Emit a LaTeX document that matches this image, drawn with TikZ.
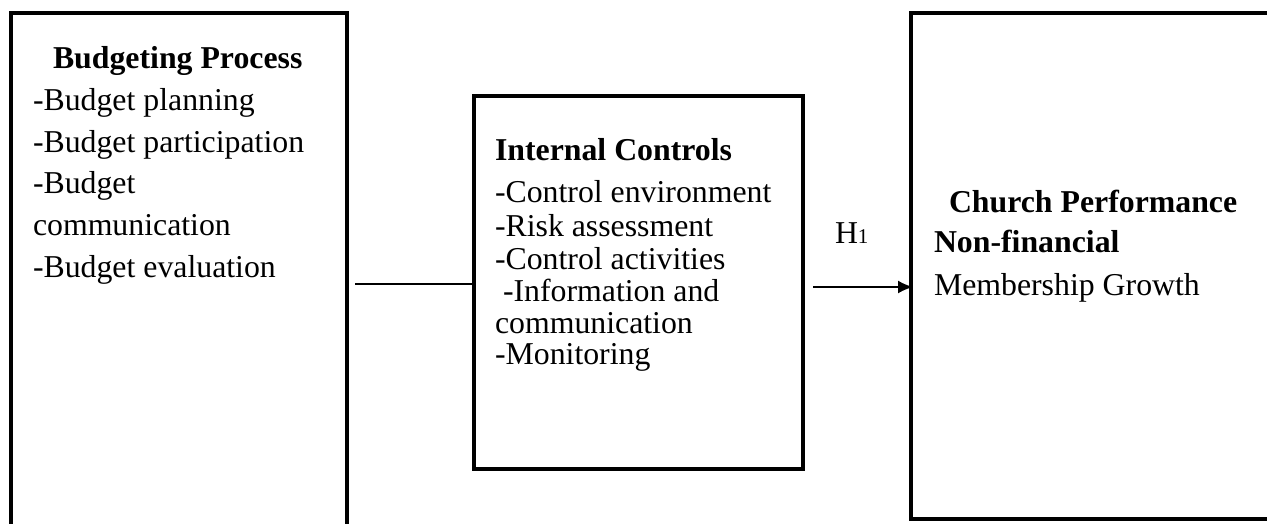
\documentclass[tikz,border=0pt]{standalone}
\usepackage{fontspec}
\setmainfont{Liberation Serif}
\usetikzlibrary{arrows.meta}
\begin{document}
\begin{tikzpicture}[x=1pt,y=-1pt,
  frame/.style={line width=4.5pt,line join=miter},
  txt/.style={anchor=base west,inner sep=0pt,outer sep=0pt,
    font=\fontsize{31.8}{36}\selectfont},
  head/.style={txt,font=\fontsize{31.8}{36}\selectfont\bfseries},
  link/.style={line width=2pt},
  arr/.style={line width=2pt,-{Latex[length=15pt,width=13pt]}}]
\useasboundingbox (0,0) rectangle (1267,523);
\clip (0,0) rectangle (1267,523);

% Budgeting process frame (open at the bottom of the page)
\draw[frame] (11,540) -- (11,13) -- (347,13) -- (347,540);
% Internal controls frame
\node[frame,draw,rectangle,minimum width=329pt,minimum height=373pt,
  inner sep=0pt] (ic) at (638.5,282.5) {};
% Church performance frame (runs past the right edge)
\draw[frame] (1290,519) -- (911,519) -- (911,13) -- (1290,13);

% Budgeting process text
\node[head] (bp0) at (53,68) {Budgeting Process};
\node[txt] (bp1) at (33,110) {-Budget planning};
\node[txt] (bp2) at (33,152) {-Budget participation};
\node[txt] (bp3) at (33,193) {-Budget};
\node[txt] (bp4) at (33,235) {communication};
\node[txt] (bp5) at (33,277) {-Budget evaluation};

% Internal controls text
\node[head] (ic0) at (495,160) {Internal Controls};
\node[txt] (ic1) at (495,202) {-Control environment};
\node[txt] (ic2) at (495,236) {-Risk assessment};
\node[txt] (ic3) at (495,269) {-Control activities};
\node[txt] (ic4) at (503,301) {-Information and};
\node[txt] (ic5) at (495,333) {communication};
\node[txt] (ic6) at (495,364) {-Monitoring};

% Church performance text
\node[head] (cp0) at (949,212) {Church Performance};
\node[head] (cp1) at (934,252) {Non-financial};
\node[txt] (cp2) at (934,295) {Membership Growth};

% Hypothesis label
\node[txt] (h1) at (835,243) {H{\fontsize{21}{24}\selectfont 1}};

% Connectors
\coordinate (l0) at (355,284);
\coordinate (a0) at (813,287);
\coordinate (a1) at (913,287);
\draw[link] (l0) -- (ic.west |- l0);
\draw[arr] (a0) -- (a1);
\end{tikzpicture}
\end{document}
